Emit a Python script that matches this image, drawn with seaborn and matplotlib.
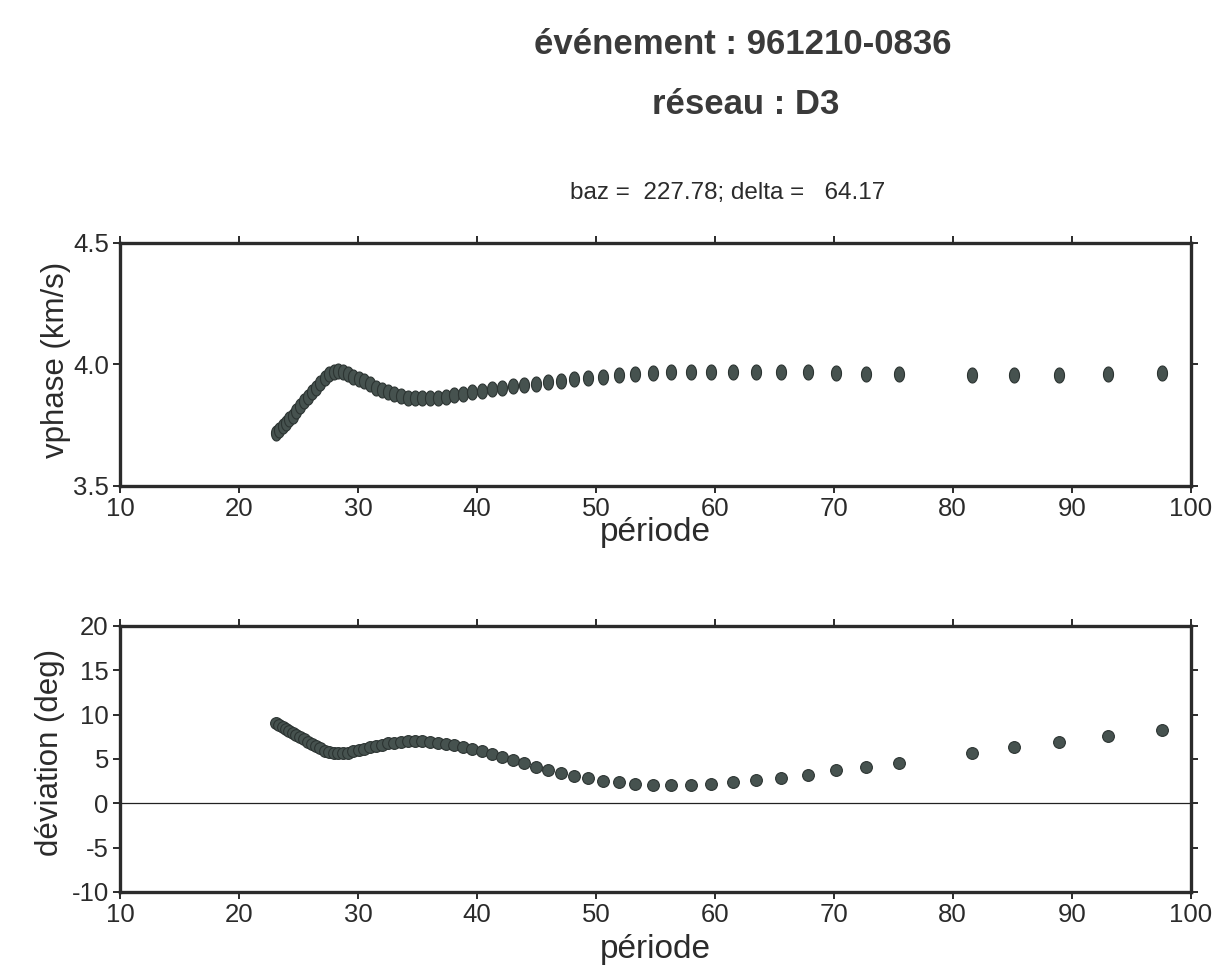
import numpy as np
import pandas as pd
import matplotlib
matplotlib.use("Agg")
import matplotlib.pyplot as plt
import seaborn as sns
from matplotlib import font_manager
from matplotlib.path import Path
from matplotlib.ticker import FormatStrFormatter

# periods (s)
periode = [23.12, 23.39, 23.67, 23.95, 24.24, 24.54, 24.84, 25.16, 25.48, 25.81,
           26.14, 26.49, 26.85, 27.21, 27.59, 27.97, 28.37, 28.78, 29.20, 29.63,
           30.08, 30.53, 31.01, 31.50, 32.00, 32.52, 33.06, 33.61, 34.19, 34.78,
           35.40, 36.04, 36.70, 37.38, 38.10, 38.83, 39.60, 40.40, 41.24, 42.11,
           43.01, 43.96, 44.94, 45.98, 47.06, 48.19, 49.38, 50.63, 51.95, 53.33,
           54.79, 56.34, 57.97, 59.70, 61.54, 63.49, 65.57, 67.80, 70.18, 72.73,
           75.47, 81.63, 85.11, 88.89, 93.02, 97.56]

# phase velocity (km/s)
vphase = [3.720, 3.730, 3.745, 3.760, 3.775, 3.790, 3.810, 3.830, 3.850, 3.865,
          3.885, 3.905, 3.925, 3.945, 3.960, 3.970, 3.975, 3.970, 3.960, 3.950,
          3.940, 3.930, 3.920, 3.905, 3.895, 3.885, 3.877, 3.870, 3.864, 3.861,
          3.860, 3.861, 3.864, 3.868, 3.873, 3.878, 3.885, 3.892, 3.899, 3.905,
          3.911, 3.916, 3.921, 3.927, 3.933, 3.939, 3.944, 3.950, 3.956, 3.961,
          3.965, 3.968, 3.970, 3.970, 3.970, 3.969, 3.968, 3.967, 3.964, 3.962,
          3.962, 3.955, 3.955, 3.956, 3.962, 3.966]

# azimuth deviation (deg)
deviation = [9.00, 8.80, 8.60, 8.40, 8.15, 7.90, 7.70, 7.45, 7.20, 6.95,
             6.70, 6.45, 6.20, 5.95, 5.80, 5.70, 5.65, 5.65, 5.70, 5.85,
             6.00, 6.15, 6.30, 6.45, 6.60, 6.75, 6.85, 6.92, 6.97, 7.00,
             7.00, 6.95, 6.85, 6.70, 6.55, 6.35, 6.10, 5.85, 5.55, 5.20,
             4.85, 4.50, 4.10, 3.75, 3.45, 3.10, 2.82, 2.55, 2.37, 2.20,
             2.06, 2.05, 2.10, 2.22, 2.35, 2.60, 2.90, 3.20, 3.70, 4.08,
             4.58, 5.70, 6.36, 6.94, 7.58, 8.22]

x_ticks = [10, 20, 30, 40, 50, 60, 70, 80, 90, 100]
v_ticks = [3.5, 4.0, 4.5]
d_ticks = [-10, -5, 0, 5, 10, 15, 20]

df = pd.DataFrame({"periode": periode, "vphase": vphase, "deviation": deviation})

sns.set_theme(style="ticks")
installed = {f.name for f in font_manager.fontManager.ttflist}
narrow = "Liberation Sans Narrow" in installed
plt.rcParams["font.family"] = ["Liberation Sans", "DejaVu Sans"]
plt.rcParams["axes.unicode_minus"] = False

ink = "#2b2b2b"
dot_fill = "#46524f"
dot_edge = "#2c3432"

fig = plt.figure(figsize=(12.14, 9.71), dpi=100, facecolor="white")
ax1 = fig.add_axes([0.0988, 0.4995, 0.882, 0.2503])
ax2 = fig.add_axes([0.0988, 0.0814, 0.882, 0.274])

# slightly tall elliptic symbol for the top panel
t = np.linspace(0, 2 * np.pi, 41)
ellipse = Path(np.column_stack([0.67 * np.cos(t), np.sin(t)]), closed=True)

sns.scatterplot(data=df, x="periode", y="vphase", ax=ax1, marker=ellipse, s=117,
                color=dot_fill, edgecolor=dot_edge, linewidth=0.8, zorder=3)
sns.scatterplot(data=df, x="periode", y="deviation", ax=ax2, marker="o", s=72,
                color=dot_fill, edgecolor=dot_edge, linewidth=0.8, zorder=3)
ax2.axhline(0, color="#222222", lw=0.9, zorder=2)

ax1.set_xlim(10, 100)
ax1.set_ylim(3.5, 4.5)
ax1.set_yticks(v_ticks)
ax1.yaxis.set_major_formatter(FormatStrFormatter("%.1f"))
ax2.set_xlim(10, 100)
ax2.set_ylim(-10, 20)
ax2.set_yticks(d_ticks)

for ax in (ax1, ax2):
    ax.set_xticks(x_ticks)
    ax.tick_params(direction="out", top=True, right=True, labeltop=False,
                   labelright=False, length=5, width=1.4, color=ink,
                   labelsize=18.5, labelcolor=ink, pad=3)
    for sp in ax.spines.values():
        sp.set_linewidth(2.4)
        sp.set_color(ink)
        sp.set_visible(True)
    ax.set_facecolor("white")

ax1.set_xlabel("période", fontsize=24, color=ink, va="center")
ax1.xaxis.set_label_coords(0.5, -0.19)
ax1.set_ylabel("vphase (km/s)", fontsize=22.5, color=ink, va="center")
ax1.yaxis.set_label_coords(-0.060, 0.52)

ax2.set_xlabel("période", fontsize=24, color=ink, va="center")
ax2.xaxis.set_label_coords(0.5, -0.218)
ax2.set_ylabel("déviation (deg)", fontsize=22.5, color=ink, va="center")
ax2.yaxis.set_label_coords(-0.065, 0.526)

# header lines
if narrow:
    head = dict(family=["Liberation Sans Narrow", "Liberation Sans"], fontweight="bold", fontsize=29.5)
    sub = dict(family=["Liberation Sans Narrow", "Liberation Sans"], fontsize=21)
else:
    head = dict(fontweight="bold", fontsize=25)
    sub = dict(fontsize=17.5)

fig.text(743 / 1214, 1 - 45 / 971, "événement : 961210-0836", ha="center", va="center",
         color="#3a3a3a", **head)
fig.text(746 / 1214, 1 - 104 / 971, "réseau : D3", ha="center", va="center",
         color="#3a3a3a", **head)
fig.text(728 / 1214, 1 - 193 / 971, "baz =  227.78; delta =   64.17", ha="center",
         va="center", color=ink, **sub)

fig.savefig("out.png", dpi=100, facecolor="white")
